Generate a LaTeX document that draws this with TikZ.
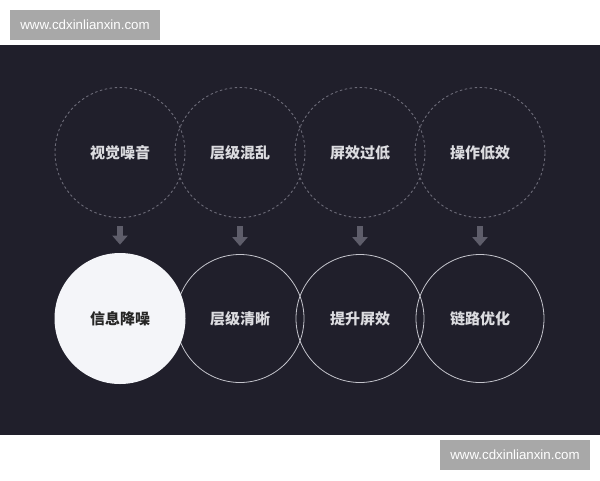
\documentclass[tikz,border=0pt]{standalone}
\usepackage{fontspec}
\newfontfamily\cjk{Noto Sans CJK SC}
\newfontfamily\wmfont{Liberation Sans}
\usetikzlibrary{arrows.meta}
\definecolor{bgdark}{HTML}{201F2B}
\definecolor{wmgray}{HTML}{A8A8A8}
\definecolor{dashgray}{HTML}{6C6B78}
\definecolor{ringgray}{HTML}{C4C4CC}
\definecolor{txtlight}{HTML}{DCDCE0}
\definecolor{arrgray}{HTML}{5E5D6A}
\definecolor{whitefill}{HTML}{F4F5F9}
\tikzset{
  wmark/.style={fill=wmgray, text=white, minimum width=150, minimum height=30, inner sep=0pt, font=\wmfont\fontsize{13.3}{14}\selectfont},
  topc/.style={circle, draw=dashgray, line width=0.9pt, dash pattern=on 2.5pt off 2.5pt, minimum size=130, inner sep=0pt, text=txtlight, font=\cjk\bfseries\fontsize{15}{16}\selectfont},
  lowc/.style={circle, draw=ringgray, line width=0.8pt, minimum size=128, inner sep=0pt, text=txtlight, font=\cjk\bfseries\fontsize{15}{16}\selectfont},
  hotc/.style={lowc, draw=none, fill=whitefill, minimum size=131, text=black!85},
  downarr/.style={arrgray, line width=6pt, -{Triangle[width=15pt,length=9pt]}, shorten <=8pt, shorten >=8pt}
}
\begin{document}
\begin{tikzpicture}[x=1pt,y=-1pt]
\fill[white](0,0) rectangle (600,480);
\useasboundingbox (0,0) rectangle (600,480);
\fill[bgdark](0,45) rectangle (600,435);
\node[wmark] (wmtop) at (85,25) {www.cdxinlianxin.com};
\node[wmark] (wmbot) at (515,455) {www.cdxinlianxin.com};
% problems
\foreach \t [count=\i] in {视觉噪音,层级混乱,屏效过低,操作低效}
  \node[topc] (p\i) at (120*\i,152.5) {\t};
% answers
\foreach \t [count=\i from 2] in {层级清晰,提升屏效,链路优化}
  \node[lowc] (q\i) at (120*\i,318.5) {\t};
\node[hotc] (q1) at (120,318.5) {信息降噪};
\foreach \i in {1,...,4}
  \draw[downarr] (p\i.south) -- (q\i.north);
\end{tikzpicture}
\end{document}
